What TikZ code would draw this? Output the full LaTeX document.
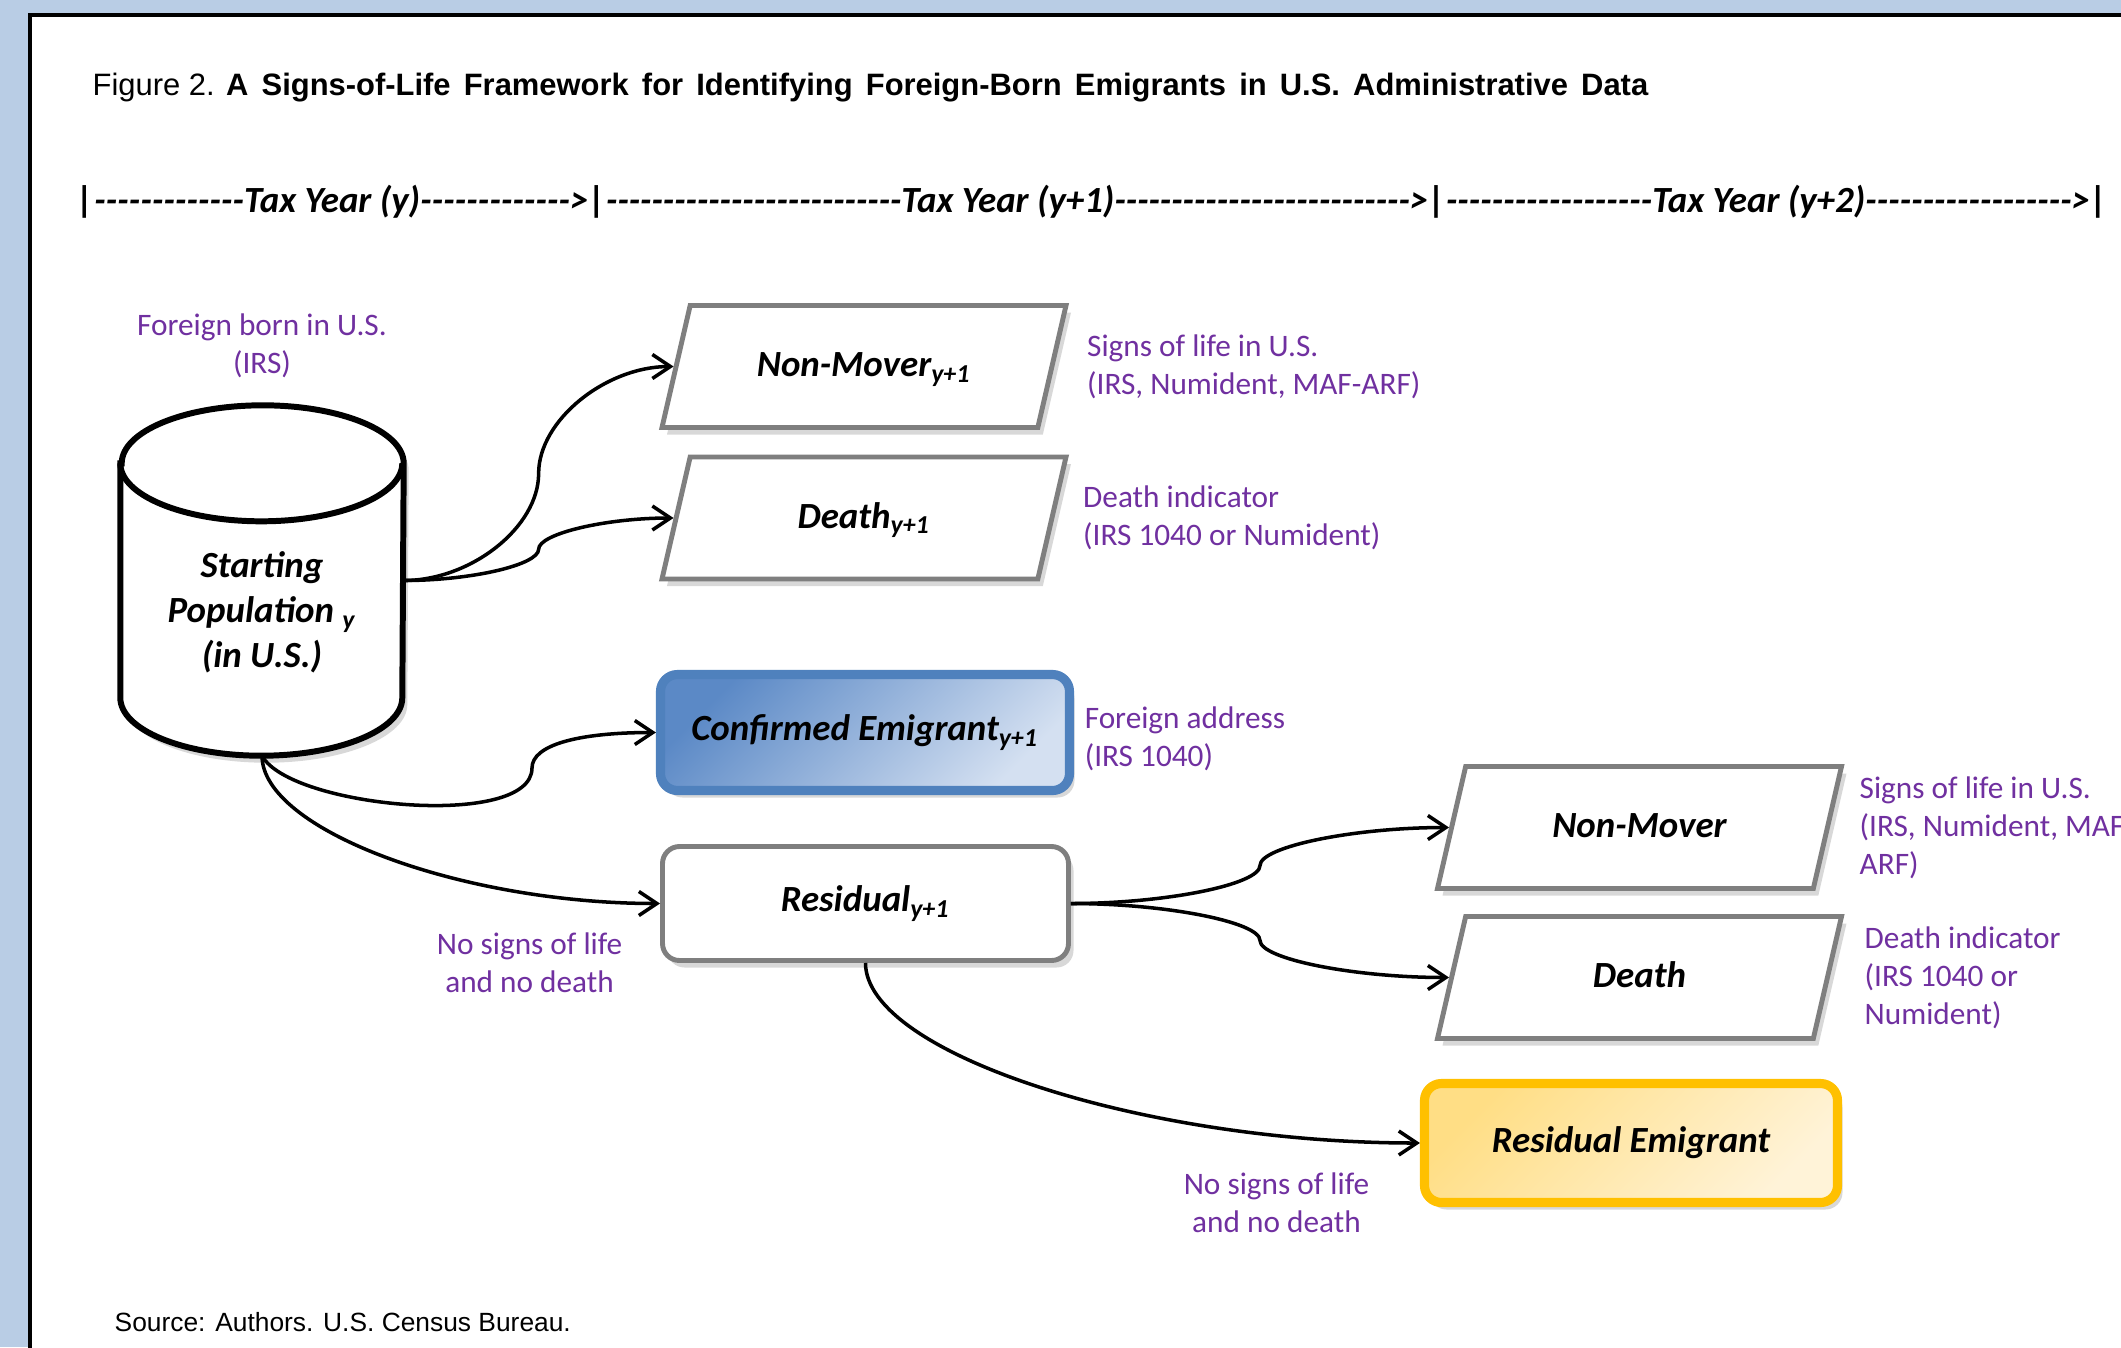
\documentclass[tikz,border=0pt]{standalone}
\usepackage{fontspec}
\setmainfont{Liberation Sans}
\newfontfamily\calibri{Carlito}
\usetikzlibrary{arrows.meta,positioning,shapes.geometric,shadows,calc}

\definecolor{framebg}{HTML}{B9CDE5}
\definecolor{notepurple}{HTML}{7030A0}
\definecolor{boxgray}{HTML}{7F7F7F}
\definecolor{emblue}{HTML}{4F81BD}
\definecolor{embluedark}{HTML}{5B89C6}
\definecolor{embluelight}{HTML}{D4E0F1}
\definecolor{emgold}{HTML}{FFC000}
\definecolor{emgolddark}{HTML}{FFDE85}
\definecolor{emgoldlight}{HTML}{FFF3D8}

\newcommand\boxfont{\calibri\bfseries\itshape\fontsize{10.5}{12.8}\selectfont}
\newcommand\notefont{\calibri\fontsize{8.9}{10.8}\selectfont}
\newcommand\yearseg[2]{\makebox[#1]{|\xleaders\hbox{-}\hfill#2\xleaders\hbox{-}\hfill>}}

\tikzset{
  boxshadow/.style={drop shadow={shadow xshift=0.05cm,shadow yshift=-0.07cm,opacity=0.3}},
  para/.style={trapezium, trapezium left angle=77, trapezium right angle=103,
    trapezium stretches body=true, minimum width=4.04cm, text height=0.28cm, text depth=0.08cm,
    inner ysep=0.43cm, draw=boxgray, line width=1.4pt, fill=white, boxshadow, font=\boxfont},
  roundbox/.style={rectangle, rounded corners=0.17cm, minimum width=4.09cm,
    minimum height=1.16cm, boxshadow, font=\boxfont},
  note/.style={text=notepurple, font=\notefont, inner sep=2pt},
  link/.style={->, line width=1pt},
  % two bends, leaves and enters horizontally
  sconn/.style={to path={let \p1=(\tikztostart), \p2=(\tikztotarget) in
    .. controls ({(3*\x1+\x2)/4},\y1) and ({(\x1+\x2)/2},{(3*\y1+\y2)/4}) .. ({(\x1+\x2)/2},{(\y1+\y2)/2})
    .. controls ({(\x1+\x2)/2},{(\y1+3*\y2)/4}) and ({(\x1+3*\x2)/4},\y2) .. (\tikztotarget) \tikztonodes}},
  % one bend, leaves downwards and enters horizontally
  dconn/.style={to path={let \p1=(\tikztostart), \p2=(\tikztotarget) in
    .. controls (\x1,{(\y1+\y2)/2}) and ({(\x1+\x2)/2},\y2) .. (\tikztotarget) \tikztonodes}},
}

\begin{document}
\begin{tikzpicture}[node distance=1cm, >={Straight Barb[length=1.8mm,width=2.4mm]}]

\useasboundingbox (0,0) rectangle (21.21,-13.47);
\fill[framebg] (0,0) rectangle (21.21,-13.47);
\draw[line width=0.9pt, fill=white] (0.30,-0.15) rectangle (21.6,-13.8);

\node(title)[anchor=base west, inner sep=0] at (0.92,-0.955){\fontsize{8.8}{10}\selectfont Figure 2. \makebox[14.22cm][s]{\bfseries A Signs-of-Life Framework for Identifying Foreign-Born Emigrants in U.S. Administrative Data}};

\node(years)[anchor=base west, inner sep=0, font=\boxfont] at (0.76,-2.12){\yearseg{5.12cm}{Tax Year (y)}\yearseg{8.40cm}{Tax Year (y+1)}\yearseg{6.62cm}{Tax Year (y+2)}|};

% starting population drum
\node(pop)[minimum width=2.82cm, minimum height=3.49cm, inner sep=0] at (2.62,-5.805){};

\draw[line width=1.7pt, fill=white, boxshadow] ([yshift=-0.58cm]pop.north west) -- ([yshift=0.58cm]pop.south west)
  arc[start angle=180, end angle=360, x radius=1.41cm, y radius=0.58cm] -- ([yshift=-0.58cm]pop.north east)
  arc[start angle=0, end angle=180, x radius=1.41cm, y radius=0.58cm] -- cycle;

\draw[line width=1.7pt] ([yshift=-0.58cm]pop.north west) arc[start angle=180, end angle=360, x radius=1.41cm, y radius=0.58cm];

\node(poptext)[font=\boxfont, align=center] at ([yshift=-0.32cm]pop.center){Starting\\Population \textsubscript{y}\\(in U.S.)};

\node(born)[note, align=center, above = .2cm of pop]{Foreign born in U.S.\\(IRS)};

% tax year y+1
\node(nm1)[para] at (8.64,-3.665){Non-Mover\textsubscript{y+1}};

\node(d1)[para] at (8.64,-5.18){Death\textsubscript{y+1}};

\node(conf)[roundbox, draw=emblue, line width=2.6pt, top color=embluedark, bottom color=embluelight, shading angle=45] at (8.65,-7.325){Confirmed Emigrant\textsubscript{y+1}};

\node(res)[roundbox, draw=boxgray, line width=1.4pt, fill=white, minimum width=4.06cm, minimum height=1.14cm] at (8.655,-9.035){Residual\textsubscript{y+1}};

\node(sl1)[note, align=left, right = .25cm of nm1]{Signs of life in U.S.\\(IRS, Numident, MAF-ARF)};

\node(di1)[note, align=left, right = .21cm of d1]{Death indicator\\(IRS 1040 or Numident)};

\node(fa)[note, align=left, right = .03cm of conf, yshift=-0.06cm]{Foreign address\\(IRS 1040)};

\node(ns1)[note, align=center, below left = .22cm and .3cm of res.west]{No signs of life\\and no death};

% tax year y+2
\node(nm2)[para] at (16.395,-8.275){Non-Mover};

\node(d2)[para] at (16.395,-9.775){Death};

\node(remig)[roundbox, draw=emgold, line width=2.6pt, top color=emgolddark, bottom color=emgoldlight, shading angle=45, minimum width=4.13cm, minimum height=1.19cm] at (16.31,-11.43){Residual Emigrant};

\node(sl2)[note, align=left, right = .22cm of nm2]{Signs of life in U.S.\\(IRS, Numident, MAF-\\ARF)};

\node(di2)[note, align=left, right = .27cm of d2]{Death indicator\\(IRS 1040 or\\Numident)};

\node(ns2)[note, align=center, below left = .22cm and .43cm of remig.west]{No signs of life\\and no death};

\node(src)[anchor=base west, inner sep=0] at (1.14,-13.31){\fontsize{7.5}{9}\selectfont Source: Authors. U.S. Census Bureau.};

% connectors
\draw[link, sconn] (pop.east) to (nm1.west);

\draw[link, sconn] (pop.east) to (d1.west);

\coordinate(dip) at (5.32,-7.68);

\draw[link] (pop.south) .. controls +(0.28,-0.52) and +(0,-0.62) .. (dip) .. controls +(0,0.23) and +(-0.78,0) .. (conf.west);

\draw[link, dconn] (pop.south) to (res.west);

\draw[link, sconn] (res.east) to (nm2.west);

\draw[link, sconn] (res.east) to (d2.west);

\draw[link, dconn] (res.south) to (remig.west);

\end{tikzpicture}
\end{document}
